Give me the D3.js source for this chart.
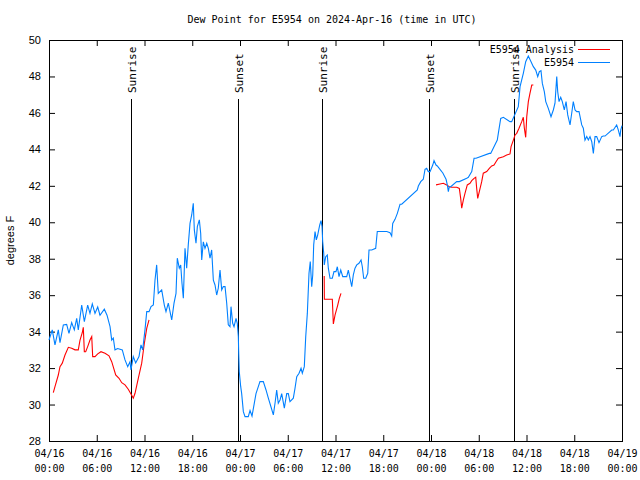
<!DOCTYPE html>
<html>
<head>
<meta charset="utf-8">
<script src="https://cdn.jsdelivr.net/npm/d3@7"></script>
<style>
  body { margin: 0; background: #fff; }
  svg text { font-family: "DejaVu Sans Mono", "Liberation Mono", monospace; font-size: 10px; fill: #000; }
</style>
</head>
<body>
<div id="chart"></div>
<script>
// hours after 2024-04-16 00:00 UTC, observed dew point (F)
var obsHours = [0, 0.41, 0.75, 1.17, 1.38, 1.8, 2.22, 2.51, 2.85, 3.18, 3.48, 3.68, 4.11, 4.44, 4.86, 5.15, 5.44, 5.78, 6.12, 6.41,
    6.95, 7.29, 7.67, 7.88, 8.08, 8.29, 8.63, 9.21, 9.55, 9.89, 10.18, 10.3, 10.59, 10.89, 11.31, 11.56, 11.77, 12.06, 12.28, 12.57,
    12.82, 13.11, 13.32, 13.53, 13.73, 14.16, 14.49, 14.7, 14.99, 15.42, 15.71, 15.96, 16.12, 16.37, 16.55, 16.71, 16.88, 17.09, 17.3,
    17.5, 17.72, 17.93, 18.13, 18.26, 18.47, 18.64, 18.89, 19.06, 19.19, 19.39, 19.6, 19.82, 20.02, 20.23, 20.44, 20.65, 20.86, 21.07,
    21.27, 21.49, 21.7, 21.9, 22.12, 22.33, 22.53, 22.74, 22.87, 23.08, 23.25, 23.5, 23.66, 23.79, 23.84, 23.91, 24.09, 24.21, 24.42,
    24.63, 25.04, 25.26, 25.51, 25.76, 26.01, 26.3, 26.51, 26.93, 27.27, 27.56, 27.86, 28.19, 28.4, 28.61, 28.81, 29.03, 29.24, 29.57,
    29.87, 30.07, 30.28, 30.7, 30.91, 31.13, 31.42, 31.67, 31.83, 32.08, 32.26, 32.46, 32.67, 32.83, 33.01, 33.14, 33.26, 33.43, 33.59,
    33.76, 34.02, 34.18, 34.31, 34.39, 34.52, 34.59, 34.77, 34.97, 35.1, 35.31, 35.6, 35.81, 36.06, 36.23, 36.44, 36.66, 36.91, 37.41,
    37.61, 37.82, 38.04, 38.24, 38.45, 38.67, 38.95, 39.21, 39.37, 39.54, 39.8, 40.05, 40.21, 40.55, 41.05, 41.25, 42.44, 42.85, 43.06,
    43.19, 43.48, 43.77, 44.11, 44.32, 46.28, 46.41, 46.71, 47.03, 47.25, 47.46, 47.66, 47.88, 48.22, 48.38, 48.63, 48.79, 49.35, 49.47,
    49.89, 50.05, 50.18, 50.3, 50.48, 51.23, 51.56, 52.49, 52.69, 53.12, 53.41, 53.66, 55.33, 55.5, 56.33, 56.46, 56.76, 57.09, 57.93,
    58.14, 58.97, 59.19, 59.6, 59.9, 60.23, 60.57, 60.86, 61.16, 61.41, 61.61, 61.82, 61.99, 62.24, 62.42, 62.74, 63.08, 63.37, 63.58,
    63.8, 63.92, 64.09, 64.3, 64.5, 64.75, 64.97, 65.18, 65.47, 65.68, 65.88, 66.1, 66.31, 66.6, 66.94, 67.14, 67.35, 67.57, 67.77,
    67.98, 68.2, 68.4, 68.61, 68.82, 69.11, 69.45, 69.65, 69.87, 70.71, 70.91, 71.33, 71.54, 71.75, 71.84, 72];
var obsDew = [33.54, 34.1, 33.27, 34.1, 33.4, 34.37, 34.4, 33.9, 34.5, 34.1, 34.73, 34.1, 35.46, 34.55, 35.46, 35.0, 35.52, 35.0, 35.35, 34.9,
    35.23, 34.9, 34.27, 33.54, 33.65, 33.0, 33.07, 33.0, 32.45, 32.08, 32.35, 31.9, 32.63, 32.28, 32.63, 33.27, 33.0, 34.1, 35.1, 35.1,
    35.37, 35.46, 36.83, 37.66, 36.1, 36.29, 35.46, 35.1, 35.56, 34.64, 35.56, 36.1, 38.03, 37.48, 37.66, 36.65, 35.83, 38.57, 37.48,
    38.76, 39.94, 40.4, 41.04, 39.58, 38.85, 39.76, 40.13, 39.4, 37.93, 38.93, 38.57, 38.85, 38.57, 38.03, 38.48, 36.83, 36.56, 36.01,
    36.38, 37.38, 36.29, 36.47, 36.47, 35.56, 34.37, 34.27, 35.37, 34.46, 34.27, 34.73, 34.46, 33.73, 32.8, 31.8, 30.98, 30.6, 29.61,
    29.34, 29.34, 29.67, 29.37, 29.98, 30.6, 30.98, 31.26, 31.26, 30.8, 30.35, 29.92, 29.43, 30.07, 30.8, 30.07, 30.25, 30.6, 29.8,
    30.6, 30.6, 30.16, 30.35, 30.89, 31.53, 31.72, 31.99, 31.72, 32.08, 33.73, 35.0, 37.2, 37.84, 36.47, 37.11, 38.76, 39.49, 39.03,
    39.3, 39.85, 40.09, 39.76, 38.94, 38.3, 37.66, 38.11, 38.2, 37.48, 36.93, 36.93, 37.29, 37.29, 37.56, 37.02, 37.38, 37.02, 37.02,
    37.38, 36.93, 36.47, 37.11, 37.48, 37.66, 37.75, 37.93, 37.56, 36.93, 36.93, 37.2, 38.48, 38.48, 38.57, 39.49, 39.49, 39.43, 39.25,
    39.94, 40.16, 40.49, 40.99, 40.99, 41.77, 41.99, 42.23, 42.36, 42.9, 42.96, 42.78, 42.78, 43.14, 43.38, 43.14, 43.09, 42.78, 42.72,
    42.36, 42.05, 41.68, 41.95, 41.95, 42.23, 42.23, 42.41, 42.47, 42.78, 43.51, 43.51, 43.78, 43.78, 44.51, 44.88, 45.7, 45.76,
    45.52, 45.52, 46.34, 47.44, 48.17, 48.81, 49.12, 48.81, 48.54, 48.35, 47.99, 48.26, 48.32, 47.62, 47.17, 46.62, 46.25, 45.79, 46.16,
    46.53, 47.99, 47.17, 46.62, 46.86, 46.62, 46.16, 46.62, 45.89, 45.34, 45.98, 46.62, 46.16, 46.07, 46.07, 45.34, 45.16, 44.51, 44.7,
    44.51, 44.7, 44.42, 43.78, 44.7, 44.7, 44.37, 44.7, 44.73, 44.73, 45.06, 45.06, 45.34, 45.06, 44.7, 45.06, 45.3];

// analysis series, null marks a gap
var anaHours = [0.54, 0.75, 1.17, 1.38, 1.67, 2.01, 2.43, 2.85, 3.27, 3.68, 3.9, 4.18, 4.31, 4.44, 4.61, 4.86, 5.15, 5.37, 5.49, 5.78,
    6.12, 6.53, 7.04, 7.54, 7.88, 8.38, 8.8, 9.14, 9.55, 9.96, 10.3, 10.59, 10.81, 11.22, 11.65, 11.98, 12.28, 12.57, 13,
    34.58, 34.6, 35.6, 35.73, 35.94, 36.28, 36.48, 36.69, 37,
    48.63, 49.13, 49.55, 49.97, 50.3, 50.6, 51.23, 51.56, 51.73, 51.86, 52.06, 52.27, 52.56, 52.9, 53.12, 53.41, 53.62, 53.74, 53.87,
    54.07, 54.37, 54.57, 55.0, 55.33, 55.63, 55.92, 56.17, 56.46, 57.09, 57.51, 57.93, 58.06, 58.35, 58.56, 58.77, 59.06, 59.4, 59.6,
    59.73, 59.9, 60.03, 60.23, 60.44, 60.66, 60.86];
var anaDew = [30.65, 30.98, 31.62, 32.08, 32.27, 32.72, 33.14, 33.09, 33.0, 33.0, 33.54, 33.94, 34.24, 32.9, 32.9, 33.18, 33.54, 33.73,
    32.63, 32.63, 32.78, 32.9, 32.81, 32.67, 32.35, 31.62, 31.44, 31.2, 31.08, 30.84, 30.58, 30.35, 30.62, 31.44, 32.27, 33.36, 34.18,
    34.64, null,
    37.05, 35.78, 35.78, 34.42, 34.9, 35.46, 35.83, 36.1, null,
    42.05, 42.1, 42.14, 42.05, 41.95, 41.92, 41.92, 41.86, 41.31, 40.77, 41.22, 41.59, 42.05, 42.14, 42.28, 42.41, 42.47, 41.86, 41.31,
    41.68, 42.23, 42.69, 42.78, 42.96, 43.09, 43.14, 43.32, 43.51, 43.6, 43.69, 43.75, 44.15, 44.51, 44.79, 44.88, 45.16, 45.52, 45.76,
    45.16, 44.66, 45.79, 46.62, 47.08, 47.53, 47.53];

var eventHours = [10.3, 23.8, 34.33, 47.8, 58.47];
var eventNames = ["Sunrise", "Sunset", "Sunrise", "Sunset", "Sunrise"];
var yTicks = [28, 30, 32, 34, 36, 38, 40, 42, 44, 46, 48, 50];

var W = 640, H = 480,
    pL = 49, pR = 622, pT = 40, pB = 441,
    t0 = Date.UTC(2024, 3, 16);

function toDate(h) { return new Date(t0 + h * 3600e3); }

var x = d3.scaleUtc()
    .domain([toDate(0), toDate(72)])
    .range([pL, pR]);
var y = d3.scaleLinear()
    .domain([28, 50])
    .range([pB, pT]);

var svg = d3.select("#chart").append("svg")
    .attr("width", W)
    .attr("height", H);

svg.append("rect").attr("width", W).attr("height", H).attr("fill", "#fff");

// title
svg.append("text")
    .attr("x", 332).attr("y", 23)
    .attr("text-anchor", "middle")
    .text("Dew Point for E5954 on 2024-Apr-16 (time in UTC)");

// axes, ticks point inward on all four sides
var xb = svg.append("g").attr("transform", "translate(0," + pB + ")")
    .call(d3.axisBottom(x).ticks(d3.utcHour.every(6)).tickSizeInner(-6).tickSizeOuter(0));
xb.selectAll(".tick text").each(function(d) {
    var t = d3.select(this).text("").attr("y", 0).attr("dy", null);
    t.append("tspan").attr("x", 0).attr("y", 16).text(d3.utcFormat("%m/%d")(d));
    t.append("tspan").attr("x", 0).attr("y", 31).text(d3.utcFormat("%H:%M")(d));
});
svg.append("g").attr("transform", "translate(0," + pT + ")")
    .call(d3.axisTop(x).ticks(d3.utcHour.every(6)).tickSizeInner(-6).tickSizeOuter(0).tickFormat(""));

var yl = svg.append("g").attr("transform", "translate(" + pL + ",0)")
    .call(d3.axisLeft(y).tickValues(yTicks).tickSizeInner(-6).tickSizeOuter(0).tickPadding(8));
yl.selectAll(".tick text").style("font-family", "'Liberation Sans', Arial, sans-serif").style("font-size", "11px");
svg.append("g").attr("transform", "translate(" + pR + ",0)")
    .call(d3.axisRight(y).tickValues(yTicks).tickSizeInner(-6).tickSizeOuter(0).tickFormat(""));

svg.selectAll(".domain").remove();
svg.selectAll(".tick line").attr("stroke", "#000");

svg.append("rect")
    .attr("x", pL + 0.5).attr("y", pT + 0.5)
    .attr("width", pR - pL).attr("height", pB - pT)
    .attr("fill", "none").attr("stroke", "#000");

svg.append("text")
    .attr("transform", "translate(14," + (pT + pB) / 2 + ") rotate(-90)")
    .attr("text-anchor", "middle")
    .style("font-family", "'Liberation Sans', Arial, sans-serif")
    .style("font-size", "11px")
    .text("degrees F");

// sunrise / sunset markers
var ev = svg.append("g");
eventHours.forEach(function(h, i) {
    var ex = Math.round(x(toDate(h))) + 0.5;
    ev.append("line")
        .attr("x1", ex).attr("x2", ex)
        .attr("y1", 99).attr("y2", pB)
        .attr("stroke", "#000");
    ev.append("text")
        .attr("transform", "translate(" + (ex + 4) + ",93) rotate(-90)")
        .style("font-size", "11px")
        .text(eventNames[i]);
});

var line = d3.line()
    .defined(function(d) { return d[1] != null; })
    .x(function(d) { return x(toDate(d[0])); })
    .y(function(d) { return y(d[1]); });

var ana = anaHours.map(function(h, i) { return [h, anaDew[i]]; });
var obs = obsHours.map(function(h, i) { return [h, obsDew[i]]; });

svg.append("path").datum(ana)
    .attr("d", line).attr("fill", "none")
    .attr("stroke", "#ff0000").attr("stroke-width", 1.1);
svg.append("path").datum(obs)
    .attr("d", line).attr("fill", "none")
    .attr("stroke", "#0080ff").attr("stroke-width", 1.1);

// legend
var lg = svg.append("g");
[["E5954 Analysis", "#ff0000"], ["E5954", "#0080ff"]].forEach(function(d, i) {
    lg.append("text")
        .attr("x", 574).attr("y", 53 + i * 13)
        .attr("text-anchor", "end")
        .text(d[0]);
    lg.append("line")
        .attr("x1", 578).attr("x2", 610)
        .attr("y1", 49.5 + i * 13).attr("y2", 49.5 + i * 13)
        .attr("stroke", d[1]);
});
</script>
</body>
</html>
